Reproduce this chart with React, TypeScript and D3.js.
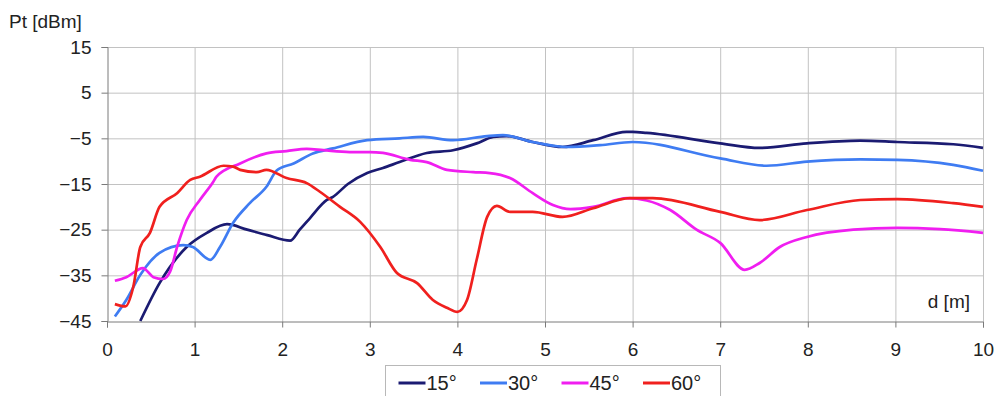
import React, { useEffect, useRef } from 'react';
import * as d3 from 'd3';

const xTicks = [0, 1, 2, 3, 4, 5, 6, 7, 8, 9, 10];
const yTicks = [15, 5, -5, -15, -25, -35, -45];

const seriesNames = ['15°', '30°', '45°', '60°'];
const seriesColors = ['#1b1b72', '#3f7cf2', '#f01ef0', '#f0201e'];

// distances [m] and power [dBm]
const d15 = [0.38, 0.6, 0.91, 1.14, 1.37, 1.6, 1.83, 2.09, 2.2, 2.32, 2.51, 2.58, 2.75, 2.97, 3.15, 3.34, 3.65, 3.95, 4.22, 4.41, 4.56, 4.86, 5.2, 5.55, 5.93, 6.0, 6.16, 7.0, 7.45, 7.99, 8.6, 9.02, 9.66, 10];
const p15 = [-45, -36.7, -28.8, -25.7, -23.8, -25, -26.2, -27.4, -25, -22.4, -18.5, -17.8, -15, -12.6, -11.5, -10.2, -8.2, -7.6, -6.1, -4.7, -4.5, -5.8, -6.9, -5.4, -3.6, -3.6, -3.8, -6.1, -7.1, -6.1, -5.5, -5.8, -6.3, -7.1];

const d30 = [0.09, 0.22, 0.38, 0.6, 0.87, 0.98, 1.18, 1.29, 1.44, 1.63, 1.82, 1.94, 2.13, 2.35, 2.58, 2.97, 3.34, 3.61, 3.95, 4.34, 4.52, 4.86, 5.25, 5.63, 6.0, 7.0, 7.53, 7.99, 8.6, 9.02, 9.66, 10];
const p30 = [-44, -40.4, -34.9, -30.1, -28.4, -28.8, -31.6, -28.8, -23.5, -19.2, -15.6, -12, -10.5, -8.3, -7.2, -5.4, -5, -4.7, -5.4, -4.5, -4.3, -5.8, -6.9, -6.5, -5.8, -9.4, -11, -10.1, -9.6, -9.7, -10.8, -12.1];

const d45 = [0.09, 0.22, 0.41, 0.53, 0.64, 0.72, 0.8, 0.91, 1.06, 1.21, 1.25, 1.52, 1.82, 2.05, 2.28, 2.47, 2.77, 3.0, 3.15, 3.46, 3.65, 3.88, 4.18, 4.37, 4.6, 4.86, 5.09, 5.29, 5.55, 5.94, 6.16, 6.43, 6.73, 7.0, 7.28, 7.45, 7.68, 7.99, 8.52, 9.02, 9.51, 10];
const p45 = [-36.2, -35.4, -33.4, -35.4, -35.8, -34.2, -28.8, -22.9, -18.5, -14.6, -13.4, -10.5, -8.3, -7.8, -7.3, -7.6, -8, -8, -8.2, -9.7, -10.2, -11.9, -12.4, -12.6, -13.7, -17, -19.6, -20.5, -20, -18.1, -18.6, -20.7, -25, -27.9, -33.8, -32.3, -28.8, -26.6, -25, -24.6, -24.9, -25.7];

const d60 = [0.09, 0.21, 0.3, 0.38, 0.49, 0.6, 0.8, 0.95, 1.06, 1.33, 1.44, 1.52, 1.71, 1.82, 2.05, 2.28, 2.43, 2.66, 2.89, 3.12, 3.31, 3.54, 3.72, 3.88, 4.0, 4.11, 4.22, 4.34, 4.45, 4.6, 4.86, 5.2, 5.55, 5.97, 6.23, 7.0, 7.45, 7.99, 8.6, 9.02, 9.66, 10];
const p60 = [-41.3, -41.8, -37.5, -28.8, -25.7, -20, -17, -14.1, -13.4, -11, -11.2, -11.9, -12.4, -11.9, -13.7, -14.8, -16.7, -20, -23.3, -28.8, -34.5, -36.7, -40.4, -42.1, -43, -40.4, -31.6, -22.2, -19.8, -21.1, -21.1, -22.2, -20.3, -18.1, -18.1, -21.1, -22.9, -20.7, -18.5, -18.3, -19.2, -20];

const seriesX = [d15, d30, d45, d60];
const seriesY = [p15, p30, p45, p60];

const W = 995;
const H = 396;
const margin = { top: 47, right: 12, bottom: 75, left: 107 };
const font = 'Liberation Sans, Arial, sans-serif';

const App = () => {
    const svgRef = useRef<SVGSVGElement>(null);

    useEffect(() => {
        if (!svgRef.current) return;
        const svg = d3.select(svgRef.current);
        svg.selectAll('*').remove();

        const x = d3.scaleLinear().domain([0, 10]).range([margin.left, W - margin.right]);
        const y = d3.scaleLinear().domain([-45, 15]).range([H - margin.bottom, margin.top]);

        // grid
        const grid = svg.append('g').attr('stroke', '#c2c2c2').attr('stroke-width', 1);
        xTicks.slice(1).forEach(t => {
            grid.append('line')
                .attr('x1', x(t) + 0.5).attr('x2', x(t) + 0.5)
                .attr('y1', y(15)).attr('y2', y(-45));
        });
        yTicks.slice(0, -1).forEach(t => {
            grid.append('line')
                .attr('x1', x(0)).attr('x2', x(10))
                .attr('y1', y(t) + 0.5).attr('y2', y(t) + 0.5);
        });

        // axes
        svg.append('g')
            .attr('transform', `translate(0,${y(-45) + 0.5})`)
            .call(d3.axisBottom(x).tickValues(xTicks).tickSize(6).tickPadding(15).tickFormat(d3.format('d')))
            .call(g => g.selectAll('line, path').attr('stroke', '#7a7a7a'))
            .selectAll('text')
            .attr('fill', '#222')
            .style('font-family', font)
            .style('font-size', '19px');

        svg.append('g')
            .attr('transform', `translate(${x(0) + 0.5},0)`)
            .call(d3.axisLeft(y).tickValues(yTicks).tickSize(6).tickPadding(10).tickFormat(d3.format('d')))
            .call(g => g.selectAll('line, path').attr('stroke', '#7a7a7a'))
            .selectAll('text')
            .attr('fill', '#222')
            .style('font-family', font)
            .style('font-size', '19px');

        // lines
        const line = d3.line<[number, number]>()
            .x(d => x(d[0]))
            .y(d => y(d[1]))
            .curve(d3.curveMonotoneX);

        seriesX.forEach((xs, i) => {
            const pts: [number, number][] = xs.map((v, j) => [v, seriesY[i][j]]);
            svg.append('path')
                .datum(pts)
                .attr('fill', 'none')
                .attr('stroke', seriesColors[i])
                .attr('stroke-width', 2.7)
                .attr('stroke-linejoin', 'round')
                .attr('d', line);
        });

        // axis titles
        svg.append('text')
            .attr('x', 9).attr('y', 28)
            .text('Pt [dBm]')
            .attr('fill', '#222')
            .style('font-family', font)
            .style('font-size', '19px');

        svg.append('text')
            .attr('x', 970).attr('y', 308)
            .attr('text-anchor', 'end')
            .text('d [m]')
            .attr('fill', '#222')
            .style('font-family', font)
            .style('font-size', '19px');

        // legend
        const legend = svg.append('g').attr('transform', 'translate(385.5,365.5)');
        legend.append('rect')
            .attr('width', 335).attr('height', 40)
            .attr('fill', 'white')
            .attr('stroke', '#b8b8b8');

        seriesNames.forEach((name, i) => {
            const item = legend.append('g').attr('transform', `translate(${13 + i * 81.5},17.5)`);
            item.append('line')
                .attr('x1', 0).attr('x2', 27)
                .attr('stroke', seriesColors[i])
                .attr('stroke-width', 3);
            item.append('text')
                .attr('x', 28).attr('y', 7)
                .text(name)
                .attr('fill', '#222')
                .style('font-family', font)
                .style('font-size', '20px');
        });
    }, []);

    return (
        <svg
            ref={svgRef}
            width={W}
            height={H}
            style={{ position: 'absolute', left: 0, top: 0, background: 'white' }}
        />
    );
};

export default App;
